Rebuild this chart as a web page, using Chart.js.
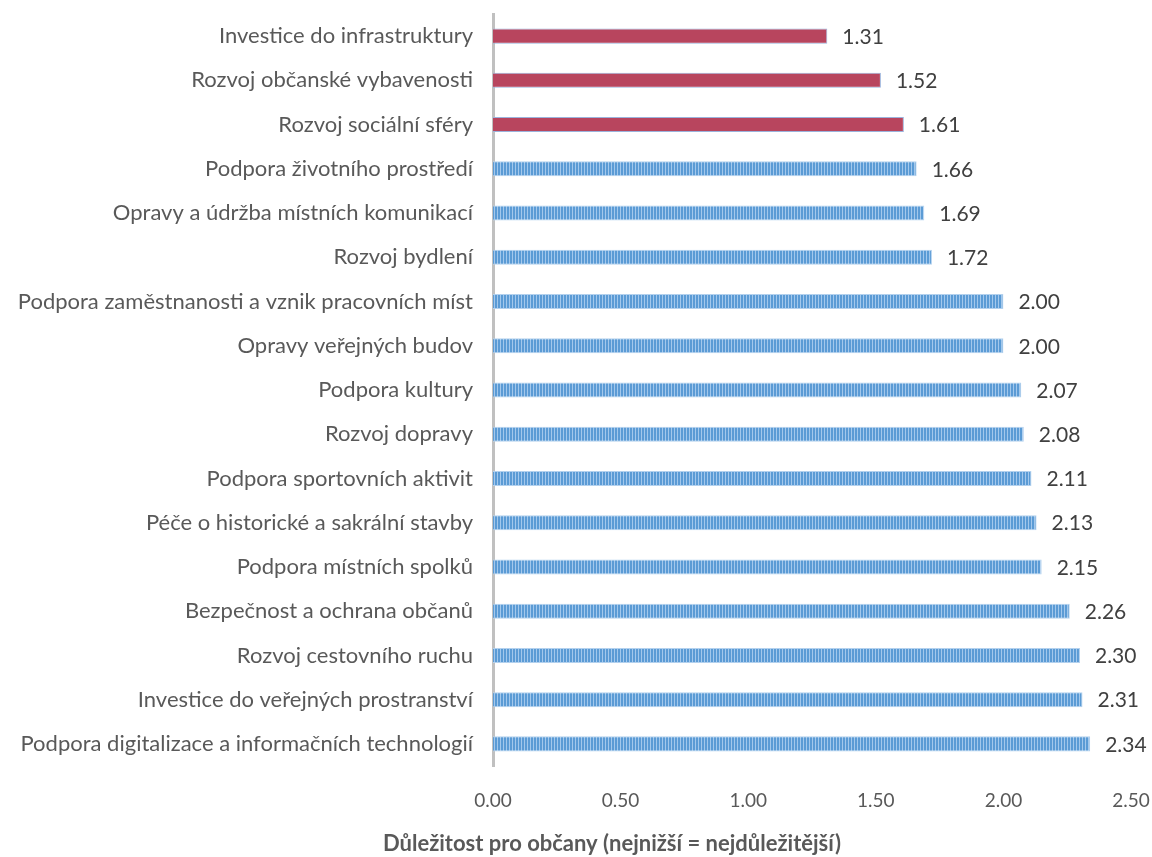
<!DOCTYPE html>
<html>
<head>
<meta charset="utf-8">
<script src="https://cdn.jsdelivr.net/npm/chart.js@4.4.1/dist/chart.umd.min.js"></script>
<style>
  html, body { margin: 0; padding: 0; background: #ffffff; }
  #wrap { width: 1152px; height: 857px; position: relative; }
</style>
</head>
<body>
<div id="wrap"><canvas id="c" width="1152" height="857"></canvas></div>
<script>
const categories = [
  "Investice do infrastruktury",
  "Rozvoj občanské vybavenosti",
  "Rozvoj sociální sféry",
  "Podpora životního prostředí",
  "Opravy a údržba místních komunikací",
  "Rozvoj bydlení",
  "Podpora zaměstnanosti a vznik pracovních míst",
  "Opravy veřejných budov",
  "Podpora kultury",
  "Rozvoj dopravy",
  "Podpora sportovních aktivit",
  "Péče o historické a sakrální stavby",
  "Podpora místních spolků",
  "Bezpečnost a ochrana občanů",
  "Rozvoj cestovního ruchu",
  "Investice do veřejných prostranství",
  "Podpora digitalizace a informačních technologií"
];
const values = [1.31, 1.52, 1.61, 1.66, 1.69, 1.72, 2.00, 2.00, 2.07, 2.08, 2.11, 2.13, 2.15, 2.26, 2.30, 2.31, 2.34];
const highlighted = [true, true, true, false, false, false, false, false, false, false, false, false, false, false, false, false, false];
const xTicks = [0, 0.5, 1, 1.5, 2, 2.5];
const axisTitle = "Důležitost pro občany (nejnižší = nejdůležitější)";

const FONT = "Lato, 'Open Sans', sans-serif";
const TEXT = "#595959";

function makeStripe() {
  const p = document.createElement('canvas');
  p.width = 3; p.height = 4;
  const g = p.getContext('2d');
  g.fillStyle = '#a3c8ec';
  g.fillRect(0, 0, 3, 4);
  g.fillStyle = '#5b9bd5';
  g.fillRect(0, 0, 2, 4);
  return document.getElementById('c').getContext('2d').createPattern(p, 'repeat');
}
const stripe = makeStripe();

const bg = highlighted.map(h => h ? '#b8455e' : stripe);
const bd = highlighted.map(h => h ? '#9bb3dc' : '#b3d1ee');

const labelPlugin = {
  id: 'valueLabels',
  afterDatasetsDraw(chart) {
    const ctx = chart.ctx;
    const meta = chart.getDatasetMeta(0);
    ctx.save();
    ctx.font = "21px " + FONT;
    ctx.fillStyle = "#404040";
    ctx.textAlign = 'left';
    ctx.textBaseline = 'middle';
    meta.data.forEach((bar, i) => {
      ctx.fillText(values[i].toFixed(2), bar.x + 15, bar.y + 1);
    });
    ctx.restore();
  }
};

const titlePlugin = {
  id: 'xTitle',
  afterDraw(chart) {
    const ctx = chart.ctx;
    ctx.save();
    ctx.font = "bold 22px " + FONT;
    ctx.fillStyle = TEXT;
    ctx.textAlign = 'center';
    ctx.textBaseline = 'middle';
    ctx.fillText(axisTitle, 612, 844);
    ctx.restore();
  }
};

new Chart(document.getElementById('c'), {
  type: 'bar',
  data: {
    labels: categories,
    datasets: [{
      data: values,
      backgroundColor: bg,
      borderColor: bd,
      borderWidth: 1,
      barPercentage: 0.68,
      categoryPercentage: 0.5
    }]
  },
  options: {
    indexAxis: 'y',
    responsive: false,
    animation: false,
    devicePixelRatio: 1,
    layout: { padding: { top: 14, right: 21, left: 0, bottom: 0 } },
    plugins: { legend: { display: false }, tooltip: { enabled: false } },
    scales: {
      x: {
        min: 0, max: 2.5,
        afterBuildTicks(scale) { scale.ticks = xTicks.map(v => ({ value: v })); },
        grid: { display: false },
        border: { display: false },
        ticks: {
          padding: 15,
          color: TEXT,
          font: { family: FONT, size: 19 },
          callback: v => Number(v).toFixed(2)
        },
        afterFit(scale) {
          scale.height = 91;
          scale.paddingLeft = 0; scale.paddingRight = 0;
        }
      },
      y: {
        grid: { display: false, drawTicks: false },
        border: { display: true, color: '#c0c0c0', width: 3 },
        ticks: {
          padding: 20,
          color: TEXT,
          font: { family: FONT, size: 22 }
        },
        afterFit(scale) {
          scale.width = 493;
          scale.paddingTop = 0; scale.paddingBottom = 0;
        }
      }
    }
  },
  plugins: [labelPlugin, titlePlugin]
});
</script>
</body>
</html>
